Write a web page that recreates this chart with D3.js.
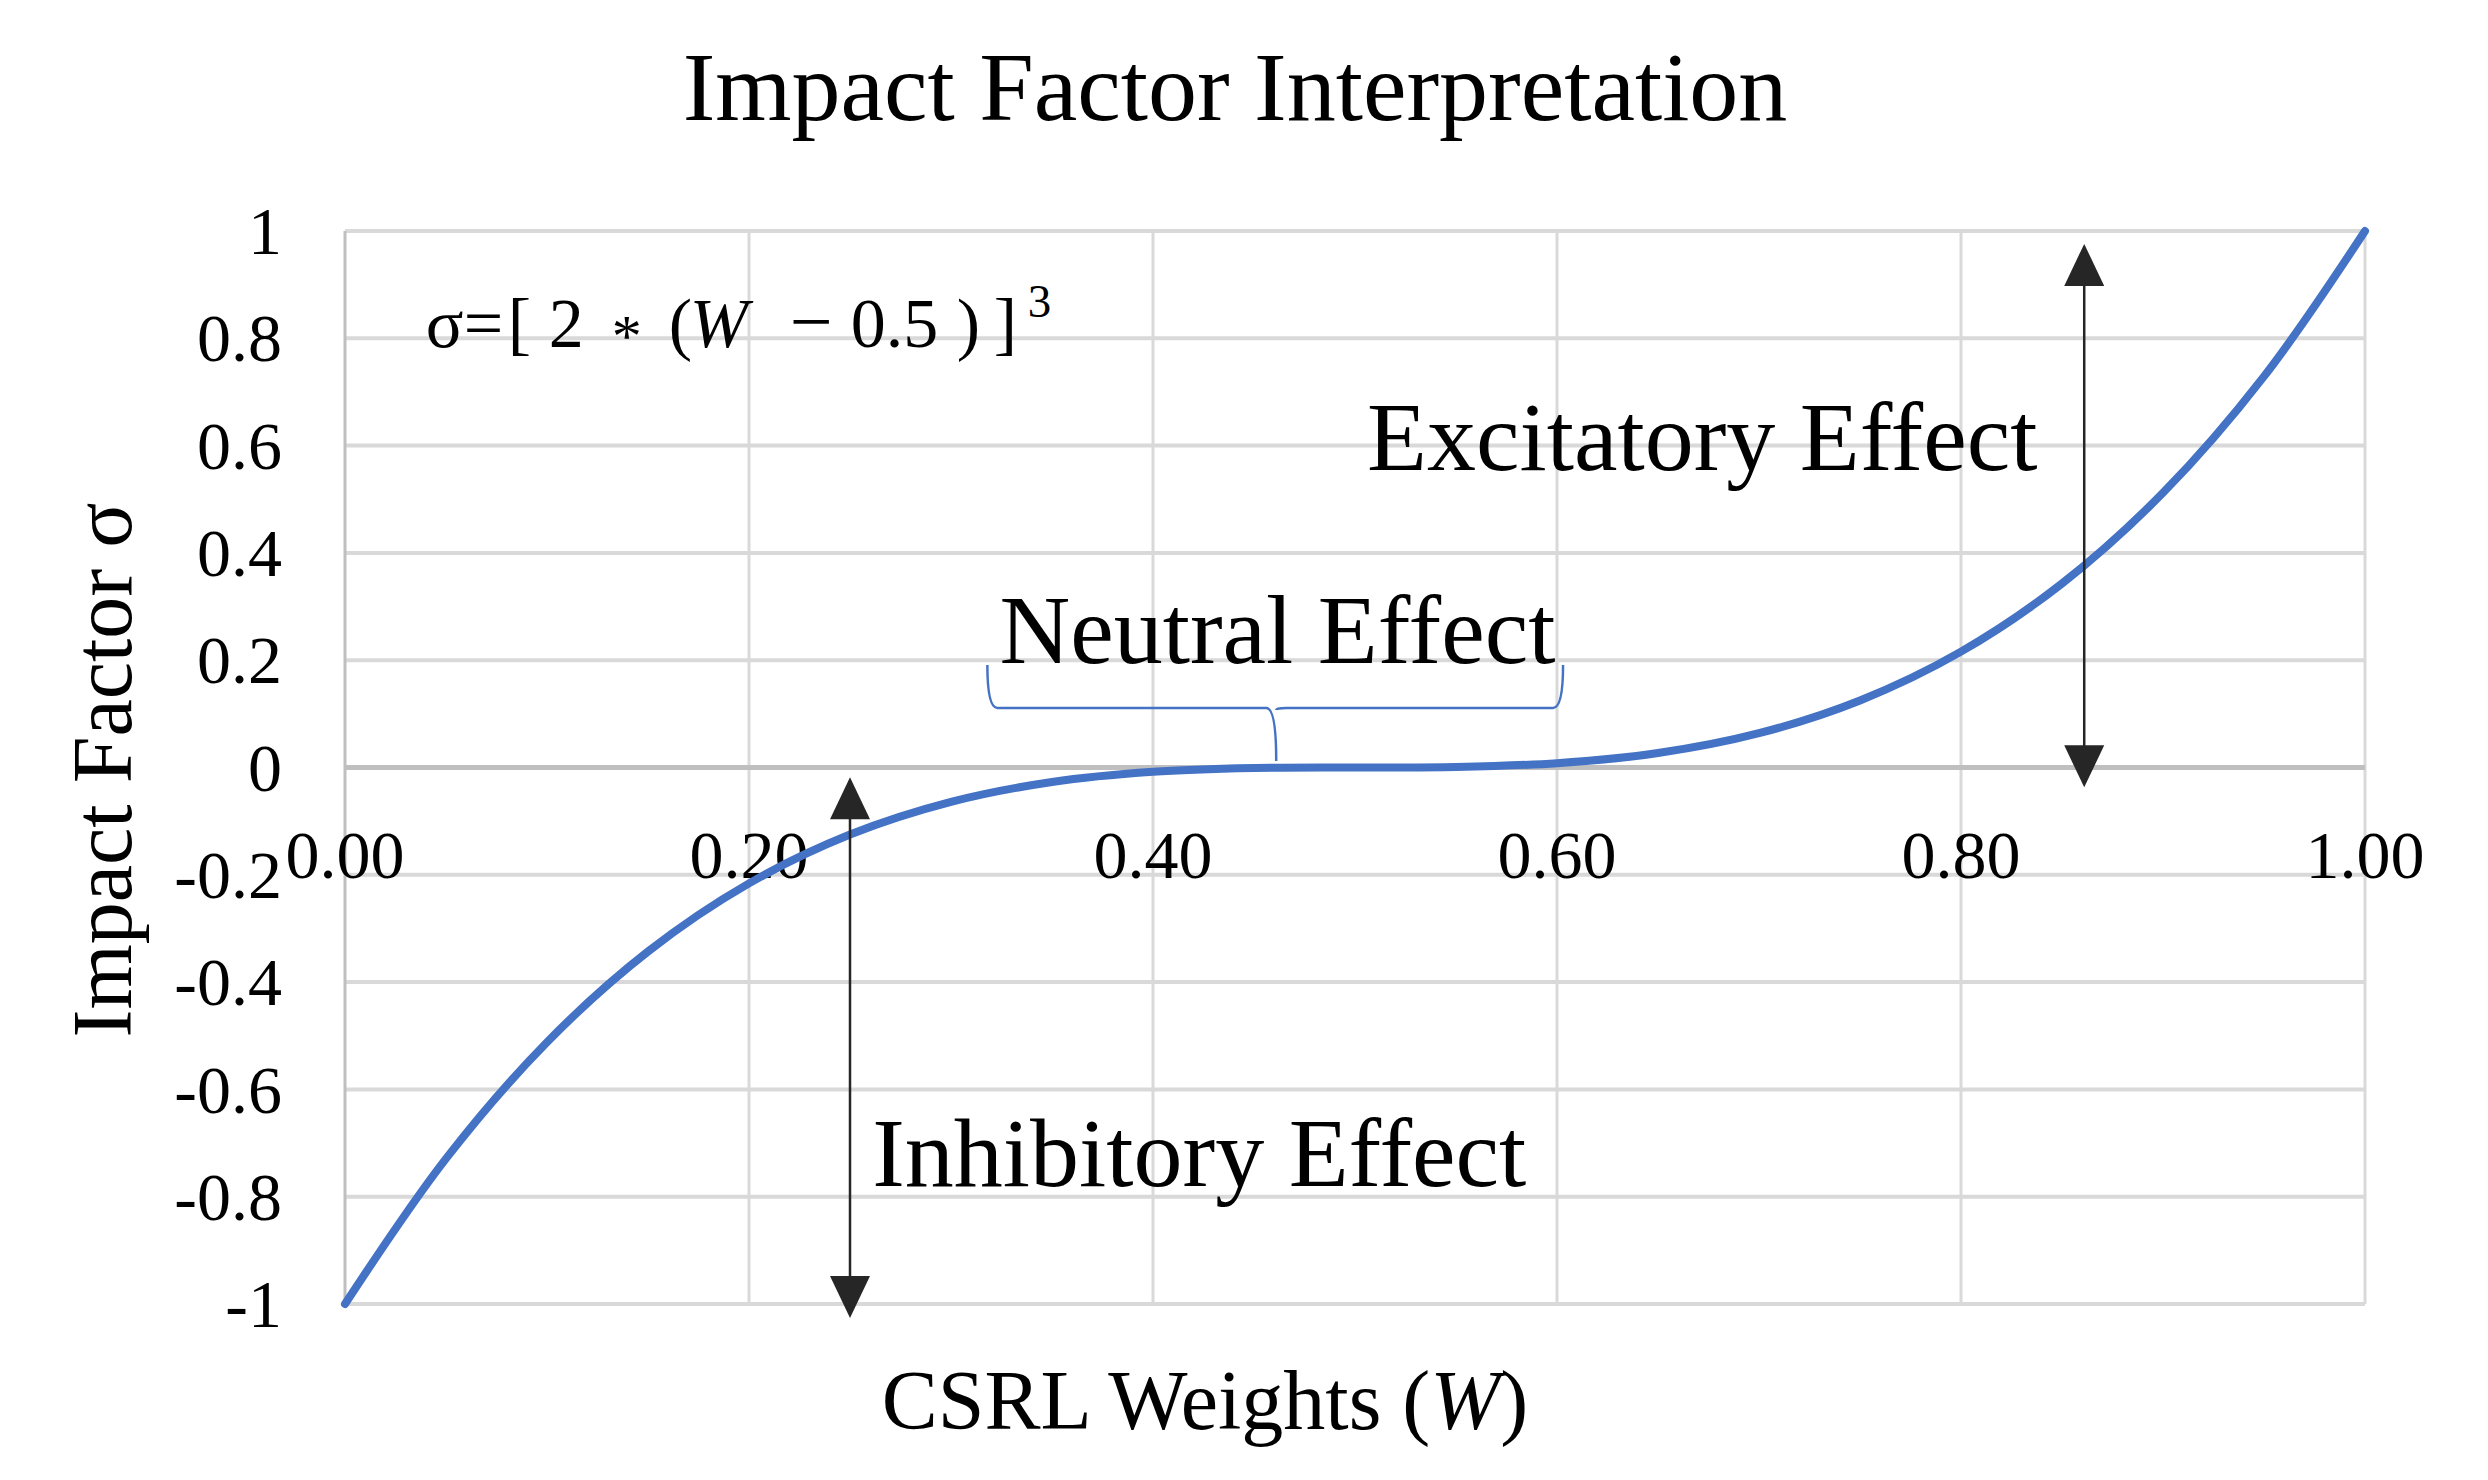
<!DOCTYPE html>
<html>
<head>
<meta charset="utf-8">
<script src="https://cdn.jsdelivr.net/npm/d3@7"></script>
<style>
  html, body { margin: 0; padding: 0; background: #fff; }
  svg { display: block; font-family: "Liberation Serif", "Times New Roman", serif; }
</style>
</head>
<body>
<div id="chart"></div>
<script>
// Values
const weights = [0, 0.05, 0.1, 0.15, 0.2, 0.25, 0.3, 0.35, 0.4, 0.45, 0.5,
                 0.55, 0.6, 0.65, 0.7, 0.75, 0.8, 0.85, 0.9, 0.95, 1];
const impact = [-1, -0.729, -0.512, -0.343, -0.216, -0.125, -0.064, -0.027, -0.008, -0.001, 0,
                0.001, 0.008, 0.027, 0.064, 0.125, 0.216, 0.343, 0.512, 0.729, 1];
const xTicks = [0, 0.2, 0.4, 0.6, 0.8, 1];
const yTicks = [-1, -0.8, -0.6, -0.4, -0.2, 0, 0.2, 0.4, 0.6, 0.8, 1];
const yTickLabels = ['-1', '-0.8', '-0.6', '-0.4', '-0.2', '0', '0.2', '0.4', '0.6', '0.8', '1'];

// double arrows: [W, σ from, σ to]
const arrowW = [0.25, 0.861];
const arrowFrom = [-0.018, -0.037];
const arrowTo = [-1.026, 0.976];

// "Neutral Effect" brace: left, middle, right W
const braceW = [0.318, 0.461, 0.603];

const labels = [
  { text: 'Excitatory Effect', w: 0.506, s: 0.555 },
  { text: 'Neutral Effect', w: 0.324, s: 0.194 },
  { text: 'Inhibitory Effect', w: 0.261, s: -0.780 }
];

// formula pieces, offsets in px from the formula start
const formula = [
  { t: 'σ', dx: 0 },
  { t: '=', dx: 38 },
  { t: '[', dx: 82 },
  { t: '2', dx: 123 },
  { t: '*', dx: 186, op: true },
  { t: '(', dx: 243 },
  { t: 'W', dx: 264, it: true },
  { t: '−', dx: 364, minus: true },
  { t: '0.5', dx: 425 },
  { t: ')', dx: 531 },
  { t: ']', dx: 568 },
  { t: '3', dx: 602, sup: true }
];

const W = 2488, H = 1480;
const M = { left: 345, right: 2365, top: 231, bottom: 1304 };

const x = d3.scaleLinear().domain([0, 1]).range([M.left, M.right]);
const y = d3.scaleLinear().domain([-1, 1]).range([M.bottom, M.top]);

const svg = d3.select('#chart').append('svg')
  .attr('width', W)
  .attr('height', H)
  .attr('viewBox', [0, 0, W, H]);

svg.append('rect').attr('width', W).attr('height', H).attr('fill', '#fff');

// gridlines
const grid = svg.append('g').attr('stroke', '#d9d9d9');
grid.selectAll('line.h').data(yTicks).join('line')
  .attr('class', 'h')
  .attr('x1', M.left).attr('x2', M.right)
  .attr('y1', d => y(d)).attr('y2', d => y(d))
  .attr('stroke-width', 4);
grid.selectAll('line.v').data(xTicks.slice(1)).join('line')
  .attr('class', 'v')
  .attr('x1', d => x(d)).attr('x2', d => x(d))
  .attr('y1', M.top).attr('y2', M.bottom)
  .attr('stroke-width', 3);

// axis lines
svg.append('line')
  .attr('x1', x(0)).attr('x2', x(0))
  .attr('y1', M.top).attr('y2', M.bottom)
  .attr('stroke', '#bfbfbf').attr('stroke-width', 3);
svg.append('line')
  .attr('x1', M.left).attr('x2', M.right)
  .attr('y1', y(0)).attr('y2', y(0))
  .attr('stroke', '#bfbfbf').attr('stroke-width', 5);

// y tick labels
svg.append('g').selectAll('text').data(yTicks).join('text')
  .attr('x', 282)
  .attr('y', d => y(d))
  .attr('dy', '0.34em')
  .attr('text-anchor', 'end')
  .attr('font-size', 68)
  .attr('fill', '#000')
  .text((d, i) => yTickLabels[i]);

// x tick labels (sit below the zero axis)
svg.append('g').selectAll('text').data(xTicks).join('text')
  .attr('x', d => x(d))
  .attr('y', y(0) + 110)
  .attr('text-anchor', 'middle')
  .attr('font-size', 68)
  .attr('fill', '#000')
  .text(d => d3.format('.2f')(d));

// curve
const pts = weights.map((w, i) => [w, impact[i]]);
svg.append('path')
  .datum(pts)
  .attr('fill', 'none')
  .attr('stroke', '#4472c4')
  .attr('stroke-width', 8)
  .attr('stroke-linecap', 'round')
  .attr('d', d3.line().x(d => x(d[0])).y(d => y(d[1])).curve(d3.curveCatmullRom));

// double arrows
const head = 42, half = 20;
arrowW.forEach((w, i) => {
  const px = x(w);
  const ya = y(arrowFrom[i]), yb = y(arrowTo[i]);
  const top = Math.min(ya, yb), bot = Math.max(ya, yb);
  const g = svg.append('g').attr('fill', '#262626').attr('stroke', '#262626');
  g.append('line')
    .attr('x1', px).attr('x2', px)
    .attr('y1', top + head - 2).attr('y2', bot - head + 2)
    .attr('stroke-width', 2.5);
  g.append('path').attr('stroke', 'none')
    .attr('d', `M${px},${top}L${px - half},${top + head}L${px + half},${top + head}Z`);
  g.append('path').attr('stroke', 'none')
    .attr('d', `M${px},${bot}L${px - half},${bot - head}L${px + half},${bot - head}Z`);
});

// brace under "Neutral Effect"
{
  const xl = x(braceW[0]), xm = x(braceW[1]), xr = x(braceW[2]);
  const yt = y(0.191), ym = y(0.111), yp = y(0.012);
  const r = 10;
  svg.append('path')
    .attr('fill', 'none')
    .attr('stroke', '#4472c4')
    .attr('stroke-width', 2.5)
    .attr('d', `M${xl},${yt} Q${xl},${ym} ${xl + r},${ym} L${xm - r},${ym} Q${xm},${ym} ${xm},${yp}
                M${xm},${ym + 2} Q${xm},${ym} ${xm + r},${ym} L${xr - r},${ym} Q${xr},${ym} ${xr},${yt}`);
}

// effect labels
svg.append('g').selectAll('text').data(labels).join('text')
  .attr('x', d => x(d.w))
  .attr('y', d => y(d.s))
  .attr('font-size', 98)
  .attr('fill', '#000')
  .text(d => d.text);

// formula
const fx = x(0.04), fy = y(0.784);
svg.append('g').selectAll('text').data(formula).join('text')
  .attr('x', d => fx + d.dx)
  .attr('y', d => d.sup ? fy - 30 : d.op ? fy + 9 : fy)
  .attr('font-size', d => d.sup ? 47 : d.op ? 60 : d.minus ? 76 : 70)
  .attr('font-weight', d => d.minus ? 300 : 'normal')
  .attr('font-style', d => d.it ? 'italic' : 'normal')
  .attr('fill', '#000')
  .text(d => d.t);

// title
svg.append('text')
  .attr('x', 1235)
  .attr('y', 120)
  .attr('text-anchor', 'middle')
  .attr('font-size', 98)
  .attr('fill', '#000')
  .text('Impact Factor Interpretation');

// axis titles
const xt = svg.append('text')
  .attr('x', 1205)
  .attr('y', 1429)
  .attr('text-anchor', 'middle')
  .attr('font-size', 84)
  .attr('fill', '#000');
xt.append('tspan').text('CSRL Weights (');
xt.append('tspan').attr('font-style', 'italic').text('W');
xt.append('tspan').text(')');

svg.append('text')
  .attr('transform', 'translate(131,770) rotate(-90)')
  .attr('text-anchor', 'middle')
  .attr('font-size', 84)
  .attr('fill', '#000')
  .text('Impact Factor σ');
</script>
</body>
</html>
